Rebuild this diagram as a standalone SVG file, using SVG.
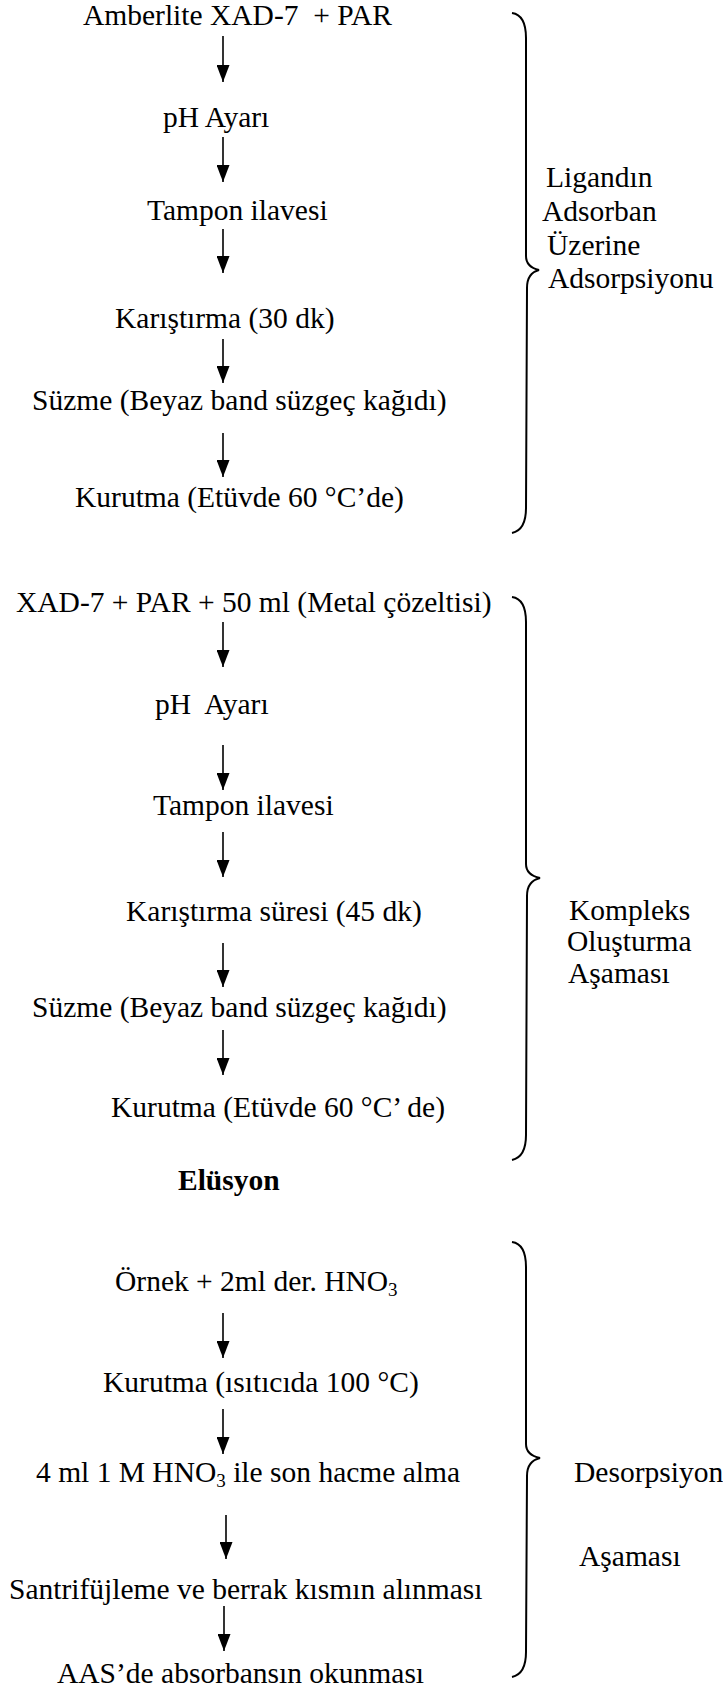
<svg xmlns="http://www.w3.org/2000/svg" width="723" height="1690" viewBox="0 0 723 1690">
<style>
text{font-family:"Liberation Serif","Times New Roman",serif;font-size:29.5px;fill:#000}
.b{font-weight:bold}
.sub{font-size:19px}
.arr{stroke:#000;stroke-width:1.6;fill:none}
.br{stroke:#000;stroke-width:2;fill:none}
</style>
<defs>
<marker id="ah" markerUnits="userSpaceOnUse" markerWidth="17" markerHeight="13" refX="17" refY="6.5" orient="auto">
<path d="M0,0 L17,6.5 L0,13 z" fill="#000"/>
</marker>
</defs>
<rect width="723" height="1690" fill="#fff"/>
<g id="n1"><text x="83" y="25" xml:space="preserve">Amberlite XAD-7  + PAR</text></g>
<g id="n2"><text x="163" y="127">pH Ayarı</text></g>
<g id="n3"><text x="147" y="220">Tampon ilavesi</text></g>
<g id="n4"><text x="115" y="328">Karıştırma (30 dk)</text></g>
<g id="n5"><text x="32" y="410">Süzme (Beyaz band süzgeç kağıdı)</text></g>
<g id="n6"><text x="75" y="507">Kurutma (Etüvde 60 °C’de)</text></g>
<g id="n7"><text x="16" y="612">XAD-7 + PAR + 50 ml (Metal çözeltisi)</text></g>
<g id="n8"><text x="155" y="714" xml:space="preserve">pH  Ayarı</text></g>
<g id="n9"><text x="153" y="815">Tampon ilavesi</text></g>
<g id="n10"><text x="126" y="921">Karıştırma süresi (45 dk)</text></g>
<g id="n11"><text x="32" y="1017">Süzme (Beyaz band süzgeç kağıdı)</text></g>
<g id="n12"><text x="111" y="1117">Kurutma (Etüvde 60 °C’ de)</text></g>
<g id="n13"><text class="b" x="178" y="1190">Elüsyon</text></g>
<g id="n14"><text x="115" y="1291">Örnek + 2ml der. HNO<tspan class="sub" dy="5">3</tspan></text></g>
<g id="n15"><text x="103" y="1392">Kurutma (ısıtıcıda 100 °C)</text></g>
<g id="n16"><text x="36" y="1482">4 ml 1 M HNO<tspan class="sub" dy="5">3</tspan><tspan dy="-5"> ile son hacme alma</tspan></text></g>
<g id="n17"><text x="9" y="1599">Santrifüjleme ve berrak kısmın alınması</text></g>
<g id="n18"><text x="57" y="1683">AAS’de absorbansın okunması</text></g>
<g id="label1">
<text x="546" y="187">Ligandın</text>
<text x="542" y="221">Adsorban</text>
<text x="547" y="255">Üzerine</text>
<text x="548" y="288">Adsorpsiyonu</text>
</g>
<g id="label2">
<text x="569" y="920">Kompleks</text>
<text x="567" y="951">Oluşturma</text>
<text x="568" y="983">Aşaması</text>
</g>
<g id="label3">
<text x="574" y="1482">Desorpsiyon</text>
<text x="579" y="1566">Aşaması</text>
</g>
<g id="braces">
<path class="br" d="M512,13 Q526,15 526,38 L526,256 Q526,267 539,270 Q527,273 527,288 L526,508 Q526,530 512,533"/>
<path class="br" d="M512,597 Q526,599 526,622 L526,864 Q526,875 540,878 Q527,881 527,896 L526,1135 Q526,1157 512,1160"/>
<path class="br" d="M512,1242 Q526,1244 526,1267 L526,1444 Q526,1455 540,1458 Q527,1461 527,1476 L526,1652 Q526,1674 512,1677"/>
</g>
<g id="connectors">
<line class="arr" x1="223" y1="36" x2="223" y2="82" marker-end="url(#ah)"/>
<line class="arr" x1="223" y1="137" x2="223" y2="182" marker-end="url(#ah)"/>
<line class="arr" x1="223" y1="229" x2="223" y2="273" marker-end="url(#ah)"/>
<line class="arr" x1="223" y1="339" x2="223" y2="383" marker-end="url(#ah)"/>
<line class="arr" x1="223" y1="433" x2="223" y2="477" marker-end="url(#ah)"/>
<line class="arr" x1="223" y1="622" x2="223" y2="667" marker-end="url(#ah)"/>
<line class="arr" x1="223" y1="745" x2="223" y2="790" marker-end="url(#ah)"/>
<line class="arr" x1="223" y1="832" x2="223" y2="877" marker-end="url(#ah)"/>
<line class="arr" x1="223" y1="943" x2="223" y2="987" marker-end="url(#ah)"/>
<line class="arr" x1="223" y1="1030" x2="223" y2="1075" marker-end="url(#ah)"/>
<line class="arr" x1="223" y1="1313" x2="223" y2="1358" marker-end="url(#ah)"/>
<line class="arr" x1="223" y1="1409" x2="223" y2="1454" marker-end="url(#ah)"/>
<line class="arr" x1="226" y1="1515" x2="226" y2="1559" marker-end="url(#ah)"/>
<line class="arr" x1="224" y1="1606" x2="224" y2="1651" marker-end="url(#ah)"/>
</g>
</svg>
